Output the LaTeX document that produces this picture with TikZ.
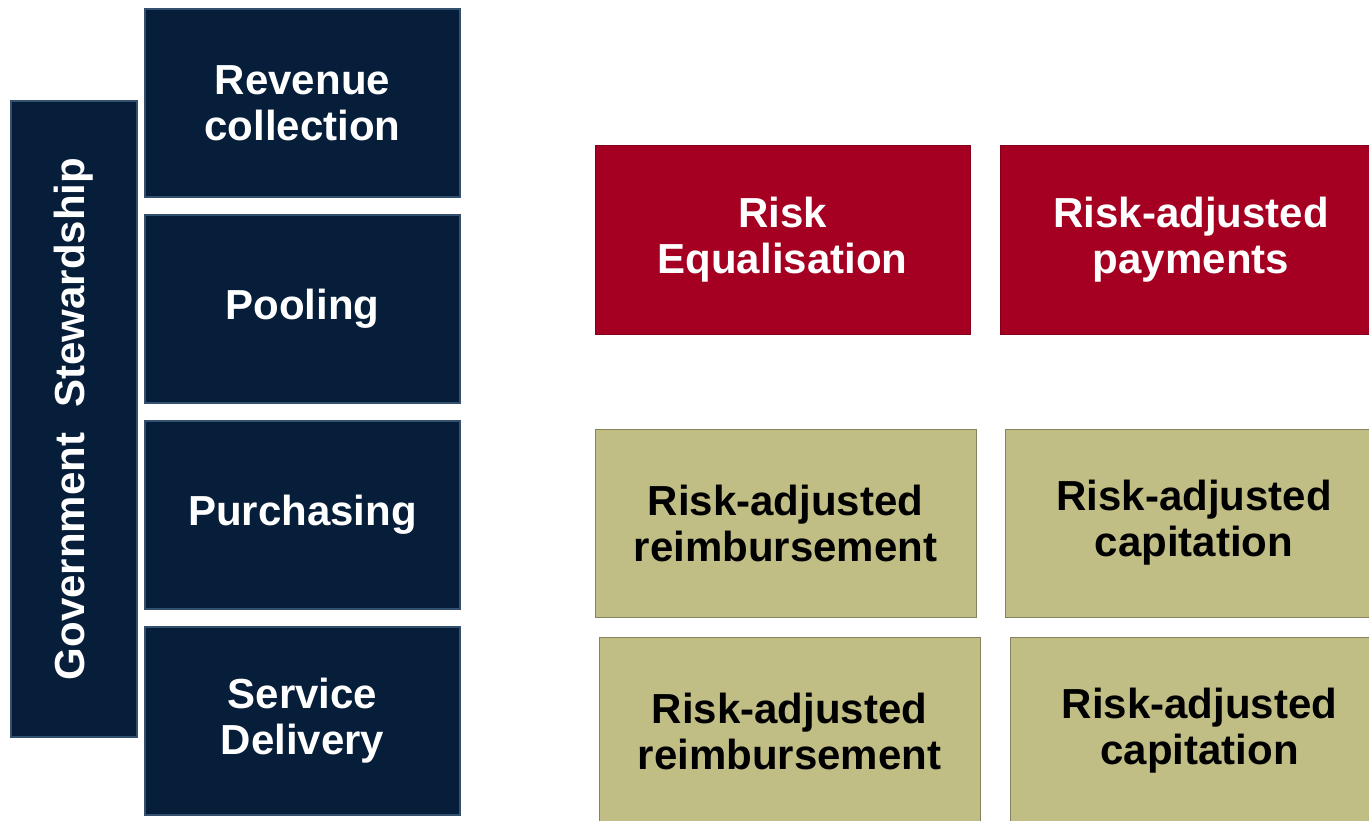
\documentclass[tikz,border=0pt]{standalone}
\usepackage{fontspec}
\setmainfont{Liberation Sans}
\usetikzlibrary{positioning}
\definecolor{navy}{HTML}{061E3A}
\definecolor{navyedge}{HTML}{34506F}
\definecolor{riskred}{HTML}{A50021}
\definecolor{olive}{HTML}{C0BD85}
\tikzset{
  stage/.style={
    rectangle, fill=navy, draw=navyedge, line width=1.2pt,
    minimum width=157.5pt, minimum height=94pt,
    align=center, text=white,
    font=\fontsize{21}{23}\selectfont\bfseries
  },
  redbox/.style={
    rectangle, fill=riskred, draw=riskred!80!black, line width=0.4pt,
    minimum height=94.5pt, align=center, text=white,
    font=\fontsize{21}{23}\selectfont\bfseries
  },
  olivebox/.style={
    rectangle, fill=olive, draw=olive!70!black, line width=0.4pt,
    minimum height=94pt, align=center, text=black,
    font=\fontsize{21}{23}\selectfont\bfseries
  }
}
\begin{document}
\begin{tikzpicture}[x=0.5pt,y=-0.5pt]
\useasboundingbox (0,0) rectangle (1369,820);
% left column
\node[stage, minimum width=63pt, minimum height=318pt] (steward) at (74,419)
  {\rotatebox{90}{Government\hspace{0.6em}Stewardship}};
\node[stage] (revenue) at (302.5,103) {Revenue\\collection};
\node[stage] (pooling) at (302.5,309) {Pooling};
\node[stage] (purchasing) at (302.5,515) {Purchasing};
\node[stage] (delivery) at (302.5,721) {Service\\Delivery};
% pooling row
\node[redbox, minimum width=187.5pt] (equal) at (782.5,239.5) {Risk\\Equalisation};
\node[redbox, minimum width=191pt] (payments) at (1191,239.5) {Risk-adjusted\\payments};
% purchasing row
\node[olivebox, minimum width=190.5pt] (reimbA) at (785.5,523) {Risk-adjusted\\reimbursement};
\node[olivebox, minimum width=189pt] (capA) at (1194,523) {Risk-adjusted\\capitation};
% delivery row
\node[olivebox, minimum width=190.5pt] (reimbB) at (789.5,731) {Risk-adjusted\\reimbursement};
\node[olivebox, minimum width=189.5pt] (capB) at (1199.5,731) {Risk-adjusted\\capitation};
\end{tikzpicture}
\end{document}
